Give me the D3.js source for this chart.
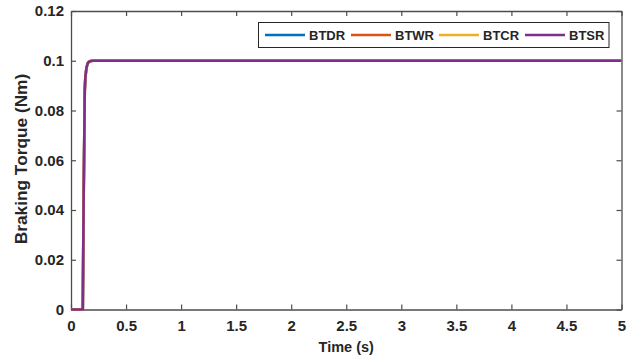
<!DOCTYPE html>
<html>
<head>
<meta charset="utf-8">
<script src="https://cdn.jsdelivr.net/npm/d3@7"></script>
<style>
  html, body { margin: 0; padding: 0; background: #fff; }
  svg text { font-family: "Liberation Sans", Arial, Helvetica, sans-serif; font-weight: bold; fill: #262626; }
</style>
</head>
<body>
<svg id="chart" width="638" height="362"></svg>
<script>
// Time samples (s) and braking torque response (Nm)
const time = [0, 0.105, 0.107, 0.115, 0.125, 0.13, 0.14, 0.15, 0.16, 0.18, 0.2, 5];
const btdr = [0, 0, 0, 0.045, 0.088, 0.093, 0.097, 0.0988, 0.0995, 0.0999, 0.1, 0.1];
const btwr = [0, 0, 0, 0.045, 0.088, 0.093, 0.097, 0.0988, 0.0995, 0.0999, 0.1, 0.1];
const btcr = [0, 0, 0, 0.045, 0.088, 0.093, 0.097, 0.0988, 0.0995, 0.0999, 0.1, 0.1];
const btsr = [0, 0, 0, 0.045, 0.088, 0.093, 0.097, 0.0988, 0.0995, 0.0999, 0.1, 0.1];

const seriesNames = ["BTDR", "BTWR", "BTCR", "BTSR"];
const seriesColors = ["#0072BD", "#D95319", "#EDB120", "#7E2F8E"];
const seriesValues = [btdr, btwr, btcr, btsr];

const xTicks = [0, 0.5, 1, 1.5, 2, 2.5, 3, 3.5, 4, 4.5, 5];
const yTicks = [0, 0.02, 0.04, 0.06, 0.08, 0.1, 0.12];

const svg = d3.select("#chart");
const plotLeft = 71, plotRight = 621.5, plotTop = 11, plotBottom = 309.5;

const x = d3.scaleLinear().domain([0, 5]).range([plotLeft, plotRight]);
const y = d3.scaleLinear().domain([0, 0.12]).range([plotBottom, plotTop]);

const axisColor = "#4d4d4d";
const tickLen = 5;

// Axes with inward ticks on all four sides
const gx = svg.append("g").attr("transform", `translate(0,${plotBottom})`)
  .call(d3.axisBottom(x).tickValues(xTicks).tickSizeInner(-tickLen).tickSizeOuter(0).tickPadding(11)
    .tickFormat(d => String(d)));
const gxTop = svg.append("g").attr("transform", `translate(0,${plotTop})`)
  .call(d3.axisTop(x).tickValues(xTicks).tickSizeInner(-tickLen).tickSizeOuter(0).tickFormat(""));
const gy = svg.append("g").attr("transform", `translate(${plotLeft},0)`)
  .call(d3.axisLeft(y).tickValues(yTicks).tickSizeInner(-tickLen).tickSizeOuter(0).tickPadding(7)
    .tickFormat(d => String(+d.toFixed(2))));
const gyRight = svg.append("g").attr("transform", `translate(${plotRight},0)`)
  .call(d3.axisRight(y).tickValues(yTicks).tickSizeInner(-tickLen).tickSizeOuter(0).tickFormat(""));

[gx, gxTop, gy, gyRight].forEach(g => {
  g.select(".domain").attr("stroke", axisColor).attr("stroke-width", 1.3);
  g.selectAll(".tick line").attr("stroke", axisColor).attr("stroke-width", 1.2);
  g.selectAll("text").attr("font-size", 15).attr("font-family", null).attr("fill", "#262626");
});

// Curves (identical responses, drawn in order so the last one is on top)
const line = d3.line().x((d, i) => x(time[i])).y(d => y(d));
seriesValues.forEach((vals, k) => {
  svg.append("path").datum(vals)
    .attr("fill", "none")
    .attr("stroke", seriesColors[k])
    .attr("stroke-width", 2.6)
    .attr("stroke-linejoin", "round")
    .attr("d", line);
});

// Axis titles
svg.append("text")
  .attr("x", (plotLeft + plotRight) / 2).attr("y", 352)
  .attr("text-anchor", "middle").attr("font-size", 14.5)
  .text("Time (s)");

svg.append("text")
  .attr("transform", "translate(27,159) rotate(-90) scale(1.08,1)")
  .attr("text-anchor", "middle").attr("font-size", 16)
  .text("Braking Torque (Nm)");

// Legend
const legend = svg.append("g");
legend.append("rect")
  .attr("x", 258.5).attr("y", 22.5).attr("width", 350.5).attr("height", 25)
  .attr("fill", "#fff").attr("stroke", "#262626").attr("stroke-width", 1);
const legendX = [265, 351, 439, 525];
seriesNames.forEach((name, k) => {
  const lx = legendX[k];
  legend.append("line")
    .attr("x1", lx).attr("x2", lx + 40).attr("y1", 35).attr("y2", 35)
    .attr("stroke", seriesColors[k]).attr("stroke-width", 2.6);
  legend.append("text")
    .attr("x", lx + 44).attr("y", 40)
    .attr("font-size", 13)
    .text(name);
});
</script>
</body>
</html>
